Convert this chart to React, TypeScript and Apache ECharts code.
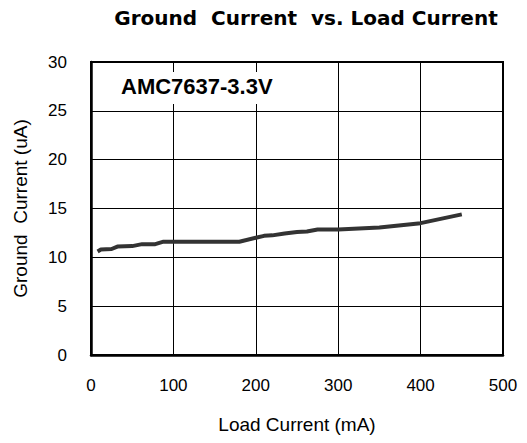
import React, { useEffect, useRef } from "react";
import * as echarts from "echarts";

const loadCurrent = [8, 12, 25, 32, 50, 62, 78, 88, 180, 200, 210, 220, 235, 250, 262, 275, 300, 350, 400, 450];
const groundCurrent = [10.6, 10.8, 10.85, 11.1, 11.15, 11.35, 11.35, 11.6, 11.6, 12.0, 12.2, 12.25, 12.45, 12.6, 12.65, 12.85, 12.85, 13.05, 13.5, 14.4];
const titleText = "Ground  Current  vs. Load Current";
const labelText = "AMC7637-3.3V";
const xName = "Load Current (mA)";
const yName = "Ground  Current (uA)";

export default function App() {
  const ref = useRef<HTMLDivElement>(null);
  useEffect(() => {
    if (!ref.current) return;
    const chart = echarts.init(ref.current, undefined, { renderer: "svg" });
    const font = "Liberation Sans, Arial, sans-serif";
    chart.setOption({
      animation: false,
      backgroundColor: "#fff",
      title: {
        text: titleText,
        left: 301,
        top: 3,
        textAlign: "center",
        textStyle: { fontFamily: "DejaVu Sans", fontWeight: "bold", fontSize: 20, color: "#000" },
      },
      grid: { left: 91, right: 24, top: 62, bottom: 88, show: true, borderColor: "#000", borderWidth: 2, backgroundColor: "transparent" },
      xAxis: {
        type: "value",
        min: 0,
        max: 500,
        interval: 100,
        name: xName,
        nameLocation: "middle",
        nameGap: 60,
        nameTextStyle: { fontFamily: font, fontSize: 19, color: "#000" },
        axisLine: { show: true, lineStyle: { color: "#000", width: 2.5 } },
        axisTick: { show: false },
        axisLabel: { margin: 22, fontFamily: font, fontSize: 17, color: "#000" },
        splitLine: { show: true, lineStyle: { color: "#000", width: 1 } },
      },
      yAxis: {
        type: "value",
        min: 0,
        max: 30,
        interval: 5,
        name: yName,
        nameLocation: "middle",
        nameGap: 61,
        nameTextStyle: { fontFamily: font, fontSize: 19, color: "#000" },
        axisLine: { show: true, lineStyle: { color: "#000", width: 2.5 } },
        axisTick: { show: false },
        axisLabel: { margin: 24, fontFamily: font, fontSize: 17, color: "#000" },
        splitLine: { show: true, lineStyle: { color: "#000", width: 1 } },
      },
      graphic: [
        { type: "rect", z: 100, shape: { x: 112, y: 72, width: 175, height: 32 }, style: { fill: "#fff" } },
        {
          type: "text",
          z: 101,
          x: 121,
          y: 86,
          style: { text: labelText, fontFamily: font, fontWeight: "bold", fontSize: 22, fill: "#000", textVerticalAlign: "middle" },
        },
      ],
      series: [
        {
          type: "line",
          data: loadCurrent.map((x, i) => [x, groundCurrent[i]]),
          showSymbol: false,
          symbol: "none",
          lineStyle: { color: "#333", width: 4 },
        },
      ],
    });
    return () => chart.dispose();
  }, []);
  return <div ref={ref} style={{ width: 527, height: 443, marginLeft: -8, marginTop: -8 }} />;
}
